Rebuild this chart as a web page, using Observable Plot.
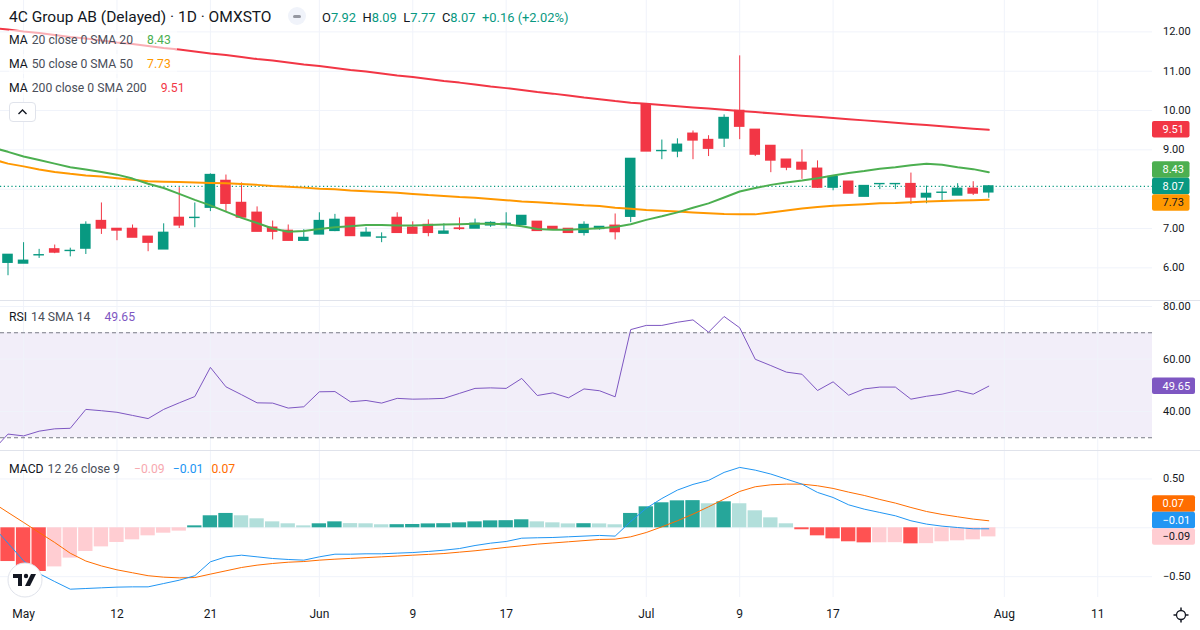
<!DOCTYPE html>
<html><head><meta charset="utf-8">
<script src="https://cdn.jsdelivr.net/npm/d3@7"></script>
<script src="https://cdn.jsdelivr.net/npm/@observablehq/plot@0.6"></script>
<style>
html,body{margin:0;padding:0;background:#fff;}
#root{position:relative;width:1200px;height:630px;overflow:hidden;font-family:Roboto,"Noto Sans",sans-serif;color:#131722;}
.pane{position:absolute;left:0;}
.sep{position:absolute;left:0;width:1200px;height:1px;background:#E0E3EB;}
.leg{position:absolute;left:9px;display:flex;align-items:center;height:20px;font-size:12.2px;white-space:nowrap;background:rgba(255,255,255,0.6);padding-right:6px;}
.leg .t{color:#131722;}
.leg .a{color:#4a4e59;margin-left:4px;}
.leg .v{margin-left:14px;}
#title{position:absolute;left:9px;top:7px;height:20px;display:flex;align-items:center;white-space:nowrap;}
#title .name{font-size:15.5px;color:#131722;}
#pill{position:absolute;left:288px;top:7px;width:18px;height:18px;border-radius:9px;background:#F0F3FA;}
#pill:after{content:"";position:absolute;left:5px;top:7.5px;width:8px;height:3px;border-radius:1.5px;background:#9598A1;}
#ohlc{position:absolute;left:322px;top:7px;height:20px;display:flex;align-items:center;font-size:12.9px;white-space:nowrap;}
#ohlc span.k{color:#131722;}
#ohlc span.n{color:#089981;margin-right:6.5px;}
#btn{position:absolute;left:9px;top:102px;width:27px;height:20px;border:1px solid #E0E3EB;border-radius:4px;background:#fff;box-sizing:border-box;}
</style></head>
<body><div id="root"></div>
<script>
// ---------- data ----------
const open  = [6.13,6.11,6.32,6.47,6.43,6.49,7.19,6.99,6.99,6.79,6.47,7.27,7.27,7.53,8.21,7.65,7.40,7.02,6.94,6.69,6.85,6.94,7.27,6.80,6.77,7.27,7.02,7.09,6.87,7.00,7.00,7.08,7.09,7.09,7.17,7.04,6.99,6.89,6.99,7.07,7.30,10.14,8.97,8.96,9.41,9.25,9.29,9.99,9.51,9.10,8.75,8.67,8.52,8.04,8.19,7.81,8.13,8.13,8.13,7.79,7.91,7.84,8.01,7.92];
const high  = [6.33,6.64,6.47,6.58,6.50,7.17,7.65,6.99,7.09,6.79,7.12,8.04,7.65,8.39,8.36,8.16,7.55,7.19,7.09,6.97,7.40,7.36,7.27,7.02,6.89,7.40,7.17,7.22,7.12,7.27,7.24,7.17,7.40,7.32,7.17,7.04,6.99,7.17,7.04,7.37,8.77,10.14,9.25,9.28,9.48,9.36,9.89,11.39,9.51,9.10,8.75,9.00,8.72,8.31,8.19,8.08,8.13,8.13,8.41,8.08,8.07,8.14,8.19,8.09];
const low   = [5.80,6.11,6.24,6.36,6.28,6.34,6.85,6.69,6.77,6.41,6.47,7.00,7.02,7.43,7.41,7.28,6.92,6.71,6.69,6.69,6.85,6.92,6.81,6.80,6.64,6.89,6.87,6.79,6.87,6.95,7.00,7.03,6.99,7.09,6.94,6.97,6.89,6.81,6.96,6.71,7.15,8.96,8.75,8.80,8.75,8.83,9.06,9.26,8.83,8.42,8.47,8.25,8.02,7.96,7.89,7.81,7.99,7.99,7.61,7.63,7.71,7.84,7.84,7.77];
const close = [6.33,6.18,6.32,6.39,6.43,7.09,7.00,6.95,6.77,6.64,6.89,7.08,7.27,8.36,7.63,7.28,6.92,6.92,6.69,6.76,7.19,7.22,6.81,6.89,6.77,6.89,6.87,6.89,6.92,6.99,7.12,7.14,7.12,7.32,6.94,6.99,6.89,7.09,7.04,6.91,8.77,8.96,8.97,9.13,9.24,9.03,9.81,9.59,8.88,8.73,8.55,8.50,8.04,8.31,7.89,8.08,8.13,8.13,7.79,7.88,7.91,8.01,7.89,8.07];
// indicator series start one bar before the first visible candle (index -1)
const ma20  = [9.06,8.95,8.83,8.74,8.65,8.56,8.50,8.44,8.37,8.27,8.14,8.03,7.88,7.73,7.59,7.43,7.27,7.14,7.00,6.92,6.94,6.99,7.03,7.06,7.09,7.09,7.08,7.08,7.09,7.10,7.11,7.12,7.12,7.11,7.06,6.99,6.97,6.97,6.99,7.01,7.04,7.11,7.22,7.31,7.41,7.53,7.64,7.79,7.94,8.03,8.11,8.17,8.22,8.28,8.35,8.41,8.46,8.52,8.56,8.61,8.65,8.62,8.56,8.51,8.43];
const ma50  = [8.76,8.65,8.58,8.50,8.44,8.39,8.35,8.32,8.28,8.24,8.20,8.19,8.18,8.17,8.16,8.15,8.13,8.11,8.08,8.06,8.04,8.01,8.00,7.97,7.95,7.93,7.91,7.88,7.85,7.83,7.80,7.78,7.75,7.72,7.69,7.67,7.64,7.62,7.59,7.57,7.53,7.50,7.47,7.45,7.43,7.41,7.39,7.37,7.36,7.36,7.41,7.46,7.51,7.55,7.58,7.60,7.62,7.64,7.65,7.67,7.69,7.70,7.71,7.72,7.73];
const ma200 = [12.10,12.06,12.01,11.97,11.92,11.87,11.83,11.78,11.73,11.69,11.64,11.59,11.55,11.50,11.45,11.41,11.36,11.31,11.27,11.22,11.17,11.13,11.08,11.03,10.99,10.94,10.89,10.85,10.80,10.75,10.71,10.66,10.61,10.57,10.52,10.47,10.43,10.38,10.33,10.29,10.24,10.20,10.17,10.14,10.11,10.08,10.05,10.02,9.99,9.96,9.93,9.90,9.87,9.84,9.81,9.78,9.75,9.72,9.69,9.66,9.63,9.60,9.57,9.54,9.51];
const rsi   = [25,31.4,30.7,32.5,33.4,33.6,40.8,40.3,39.7,38.5,37.3,40.8,43.3,45.7,56.8,49.4,46.4,43.3,43.2,41.3,41.8,47.5,47.6,43.7,44.2,43.2,45.0,44.7,44.8,45.0,46.9,48.8,49.0,48.8,52.6,46.1,47.1,45.2,48.6,47.9,45.6,71.2,72.8,72.8,74.0,74.9,70.2,76.2,71.9,59.9,57.5,55.0,54.2,48.0,51.3,46.2,48.6,49.3,49.3,44.7,45.8,46.6,48.0,46.6,49.65];
const macd  = [0.02,-0.157,-0.338,-0.468,-0.55,-0.628,-0.621,-0.614,-0.607,-0.604,-0.604,-0.57,-0.536,-0.49,-0.348,-0.297,-0.28,-0.297,-0.314,-0.324,-0.331,-0.297,-0.27,-0.27,-0.266,-0.266,-0.259,-0.253,-0.242,-0.229,-0.212,-0.181,-0.157,-0.14,-0.106,-0.102,-0.099,-0.092,-0.085,-0.078,-0.085,0.065,0.20,0.30,0.386,0.444,0.485,0.567,0.618,0.59,0.55,0.498,0.447,0.362,0.31,0.235,0.191,0.157,0.123,0.072,0.038,0.017,0.003,-0.01,-0.01];
const signal= [0.26,0.157,0.055,-0.048,-0.15,-0.26,-0.34,-0.39,-0.43,-0.46,-0.49,-0.505,-0.512,-0.509,-0.474,-0.44,-0.406,-0.382,-0.365,-0.352,-0.345,-0.331,-0.321,-0.313,-0.305,-0.297,-0.289,-0.28,-0.272,-0.263,-0.249,-0.235,-0.218,-0.20,-0.184,-0.167,-0.155,-0.143,-0.131,-0.119,-0.116,-0.092,-0.048,0.01,0.072,0.14,0.215,0.294,0.372,0.42,0.44,0.447,0.447,0.43,0.403,0.365,0.331,0.29,0.253,0.208,0.167,0.137,0.113,0.089,0.072];
const hist  = [-0.30,-0.345,-0.40,-0.447,-0.40,-0.31,-0.242,-0.195,-0.15,-0.123,-0.082,-0.055,-0.034,0.02,0.123,0.147,0.123,0.092,0.061,0.041,0.02,0.041,0.061,0.043,0.041,0.031,0.032,0.034,0.040,0.042,0.051,0.061,0.071,0.073,0.082,0.061,0.051,0.040,0.042,0.040,0.031,0.147,0.215,0.256,0.276,0.278,0.246,0.266,0.246,0.174,0.102,0.041,-0.02,-0.082,-0.113,-0.143,-0.154,-0.153,-0.152,-0.164,-0.162,-0.143,-0.133,-0.123,-0.093];
const timeTickIdx    = [1,7,13,20,26,32,41,47,53,64,70];
const timeTickLabels = ["May","12","21","Jun","9","17","Jul","9","17","Aug","11"];
const priceTicks = [6,7,8,9,10,11,12];
const rsiTicks   = [40,60,80];
const rsiBands   = [30,70];
const macdTicks  = [-0.5,0,0.5];

// ---------- styles ----------
const UP="#089981", DOWN="#F23645", GRID="#F0F3FA";
const W=1200, MR=48;
const xDomain=[-0.4818,73.517];
const root=document.getElementById("root");
const candles=open.map((o,i)=>({i,open:o,high:high[i],low:low[i],close:close[i]}));
const series=ma20.map((_,k)=>({i:k-1,ma20:ma20[k],ma50:ma50[k],ma200:ma200[k],rsi:rsi[k],macd:macd[k],signal:signal[k],hist:hist[k],prev:k>0?hist[k-1]:hist[k]}));
const visible=series.filter(d=>d.i>=0);
const cColor=d=>d.close>=d.open?UP:DOWN;
const hColor=d=>d.hist>=0?(d.hist>=d.prev?"#26A69A":"#B2DFDB"):(d.hist<d.prev?"#FF5252":"#FFCDD2");
const baseStyle={fontFamily:"Roboto, sans-serif",fontSize:"11px",color:"#131722",background:"transparent",overflow:"hidden"};
const fmt=d3.format(".2f");
const gridX=timeTickIdx.filter(d=>d<xDomain[1]);
const lastClose=close[close.length-1];
// the price scale hides a tick label that would sit under the last-price tag
const priceLabelTicks=priceTicks.filter(t=>Math.abs(t-lastClose)>0.25);

function place(el,top){el.classList.add("pane");el.style.top=top+"px";root.appendChild(el);}

function addBoxes(plot,items,boxW){
  const ys=plot.scale("y");
  items.forEach(d=>d.y=ys.apply(d.v));
  const h=16.5;
  const s=items.slice().sort((a,b)=>a.y-b.y);
  const a=s.findIndex(d=>d.anchor);
  for(let k=a-1;k>=0;k--) if(s[k].y>s[k+1].y-h) s[k].y=s[k+1].y-h;
  for(let k=a+1;k<s.length;k++) if(s[k].y<s[k-1].y+h) s[k].y=s[k-1].y+h;
  const g=d3.select(plot).append("g").attr("text-anchor","start");
  for(const d of s){
    g.append("rect").attr("x",W-MR).attr("y",d.y-h/2).attr("width",boxW).attr("height",h).attr("rx",2).attr("fill",d.bg);
    g.append("text").attr("x",W-MR+10.5).attr("y",d.y).attr("dy","0.36em").attr("text-anchor","start").attr("fill",d.fg).attr("font-size",11).text(d.text);
  }
}
const yAxis=ticks=>Plot.axisY(ticks,{anchor:"right",tickSize:0,tickPadding:10.5,tickFormat:fmt,label:null});

// ---------- price pane ----------
const price=Plot.plot({
  width:W,height:300,marginLeft:0,marginRight:MR,marginTop:0,marginBottom:0,style:baseStyle,
  x:{domain:xDomain,axis:null},
  y:{domain:[5.17,12.798],axis:null,label:null},
  marks:[
    Plot.ruleX(gridX,{stroke:GRID}),
    Plot.ruleY(priceTicks,{stroke:GRID}),
    yAxis(priceLabelTicks),
    Plot.ruleY([lastClose],{stroke:UP,strokeDasharray:"1.2,2.6",strokeWidth:1.2}),
    Plot.ruleX(candles,{x:"i",y1:"low",y2:"high",stroke:cColor,strokeWidth:1}),
    Plot.rect(candles,{x1:d=>d.i-0.34,x2:d=>d.i+0.34,y1:"open",y2:"close",fill:cColor,insetTop:-0.7,insetBottom:-0.7}),
    Plot.line(series,{x:"i",y:"ma200",stroke:"#F23645",strokeWidth:2,clip:true}),
    Plot.line(series,{x:"i",y:"ma50",stroke:"#FF9800",strokeWidth:2,clip:true}),
    Plot.line(series,{x:"i",y:"ma20",stroke:"#4CAF50",strokeWidth:2,clip:true})
  ]
});
place(price,0);
addBoxes(price,[
  {v:ma200[ma200.length-1],text:fmt(ma200[ma200.length-1]),bg:"#F23645",fg:"#fff"},
  {v:ma20[ma20.length-1],text:fmt(ma20[ma20.length-1]),bg:"#4CAF50",fg:"#fff"},
  {v:lastClose,text:fmt(lastClose),bg:UP,fg:"#fff",anchor:true},
  {v:ma50[ma50.length-1],text:fmt(ma50[ma50.length-1]),bg:"#FF9800",fg:"#131722"}
],37.5);

// ---------- RSI pane ----------
const rsiPlot=Plot.plot({
  width:W,height:150,marginLeft:0,marginRight:MR,marginTop:0,marginBottom:0,style:baseStyle,
  x:{domain:xDomain,axis:null},
  y:{domain:[25.14,82.29],axis:null,label:null},
  marks:[
    Plot.rect([rsiBands],{x1:xDomain[0],x2:xDomain[1],y1:d=>d[0],y2:d=>d[1],fill:"#7E57C2",fillOpacity:0.1}),
    Plot.ruleX(gridX,{stroke:GRID}),
    Plot.ruleY(rsiTicks,{stroke:GRID}),
    Plot.ruleY(rsiBands,{stroke:"#787B86",strokeDasharray:"4,3"}),
    yAxis(rsiTicks),
    Plot.line(series,{x:"i",y:"rsi",stroke:"#7E57C2",strokeWidth:1,clip:true})
  ]
});
place(rsiPlot,300);
addBoxes(rsiPlot,[{v:rsi[rsi.length-1],text:fmt(rsi[rsi.length-1]),bg:"#7E57C2",fg:"#fff",anchor:true}],43);

// ---------- MACD pane ----------
const macdPlot=Plot.plot({
  width:W,height:147,marginLeft:0,marginRight:MR,marginTop:0,marginBottom:0,style:baseStyle,
  x:{domain:xDomain,axis:null},
  y:{domain:[-0.713,0.791],axis:null,label:null},
  marks:[
    Plot.ruleX(gridX,{stroke:GRID}),
    Plot.ruleY(macdTicks,{stroke:GRID}),
    yAxis(macdTicks.filter(d=>d!==0)),
    Plot.rect(visible,{x1:d=>d.i-0.46,x2:d=>d.i+0.46,y1:0,y2:"hist",fill:hColor}),
    Plot.line(series,{x:"i",y:"signal",stroke:"#FF6D00",strokeWidth:1,clip:true}),
    Plot.line(series,{x:"i",y:"macd",stroke:"#2196F3",strokeWidth:1,clip:true})
  ]
});
place(macdPlot,450);
addBoxes(macdPlot,[
  {v:signal[signal.length-1],text:fmt(signal[signal.length-1]),bg:"#FF6D00",fg:"#fff"},
  {v:macd[macd.length-1],text:fmt(macd[macd.length-1]),bg:"#2196F3",fg:"#fff"},
  {v:hist[hist.length-1],text:fmt(hist[hist.length-1]),bg:"#FFCDD2",fg:"#131722",anchor:true}
],43);

// ---------- time axis ----------
const timeAxis=Plot.plot({
  width:W,height:33,marginLeft:0,marginRight:MR,marginTop:0,marginBottom:0,style:Object.assign({},baseStyle,{fontSize:"12px"}),
  x:{domain:xDomain,axis:null},
  marks:[
    Plot.text(timeTickIdx.map((v,k)=>({i:v,label:timeTickLabels[k]})),{x:"i",text:"label",frameAnchor:"middle",fill:"#131722"})
  ]
});
place(timeAxis,597);

// separators
[300,450].forEach(t=>{const s=document.createElement("div");s.className="sep";s.style.top=t+"px";root.appendChild(s);});

// ---------- legends ----------
root.insertAdjacentHTML("beforeend",`
<div id="title"><span class="name">4C Group AB (Delayed) · 1D · OMXSTO</span></div>
<div id="pill"></div>
<div id="ohlc"><span class="k">O</span><span class="n">${fmt(open[63])}</span><span class="k">H</span><span class="n">${fmt(high[63])}</span><span class="k">L</span><span class="n">${fmt(low[63])}</span><span class="k">C</span><span class="n">${fmt(close[63])}</span><span class="n">+0.16 (+2.02%)</span></div>
<div class="leg" style="top:30px"><span class="t">MA</span><span class="a">20 close 0 SMA 20</span><span class="v" style="color:#4CAF50">${fmt(ma20[64])}</span></div>
<div class="leg" style="top:54px"><span class="t">MA</span><span class="a">50 close 0 SMA 50</span><span class="v" style="color:#FF9800">${fmt(ma50[64])}</span></div>
<div class="leg" style="top:78px"><span class="t">MA</span><span class="a">200 close 0 SMA 200</span><span class="v" style="color:#F23645">${fmt(ma200[64])}</span></div>
<div id="btn"><svg width="25" height="18" style="position:absolute;left:0;top:0"><path d="M8.5 11 L12.5 7 L16.5 11" fill="none" stroke="#131722" stroke-width="1.4"/></svg></div>
<div class="leg" style="top:307px;background:transparent"><span class="t">RSI</span><span class="a">14 SMA 14</span><span class="v" style="color:#7E57C2">${fmt(rsi[64])}</span></div>
<div class="leg" style="top:459px;background:transparent"><span class="t">MACD</span><span class="a">12 26 close 9</span><span class="v" style="color:#F7A9B0">${fmt(hist[64])}</span><span class="v" style="color:#2196F3;margin-left:8px">${fmt(macd[64])}</span><span class="v" style="color:#FF6D00;margin-left:8px">${fmt(signal[64])}</span></div>
<svg style="position:absolute;left:0;top:560px" width="50" height="40">
  <circle cx="25" cy="20" r="17" fill="#fff" stroke="#E0E3EB"/>
  <path d="M13 14 H22 V26 H18 V18 H13 Z" fill="#131722"/>
  <circle cx="26" cy="16" r="2.2" fill="#131722"/>
  <path d="M31 14 H36 L30 26 H25 Z" fill="#131722"/>
</svg>
<svg style="position:absolute;left:1170px;top:604px" width="22" height="22">
  <circle cx="11" cy="11" r="4.5" fill="none" stroke="#131722" stroke-width="1.3"/>
  <g stroke="#131722" stroke-width="1.5">
    <line x1="11" y1="3.5" x2="11" y2="6"/><line x1="11" y1="16" x2="11" y2="18.5"/>
    <line x1="3.5" y1="11" x2="6" y2="11"/><line x1="16" y1="11" x2="18.5" y2="11"/>
  </g>
</svg>
`);
</script></body></html>
